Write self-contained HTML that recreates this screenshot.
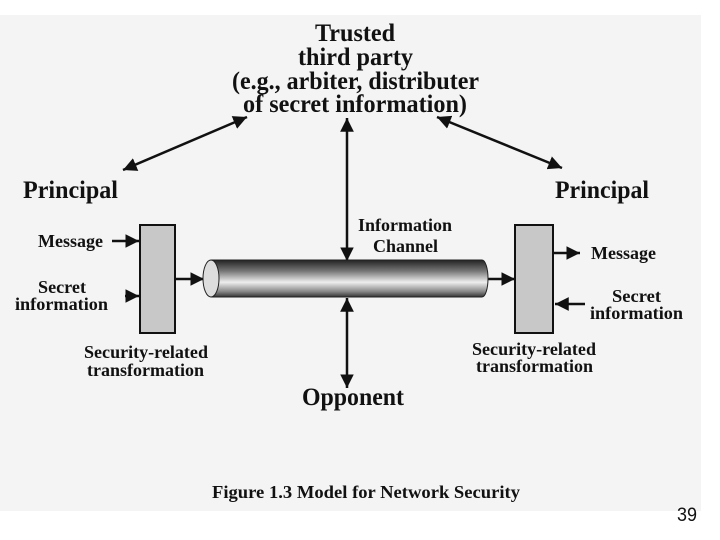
<!DOCTYPE html>
<html><head><style>
html,body{margin:0;padding:0;background:#fff;}
svg{display:block;}
text{font-family:"Liberation Serif",serif;font-weight:bold;fill:#111;}
</style></head><body>
<svg width="720" height="540" viewBox="0 0 720 540" xmlns="http://www.w3.org/2000/svg">
<defs>
<marker id="a" viewBox="0 0 10 10" refX="10" refY="5" markerWidth="5.5" markerHeight="5.5" orient="auto-start-reverse"><path d="M0,0L10,5L0,10z" fill="#111"/></marker>
<linearGradient id="cyl" x1="0" y1="0" x2="0" y2="1">
<stop offset="0" stop-color="#222"/><stop offset="0.3" stop-color="#777"/><stop offset="0.6" stop-color="#eee"/><stop offset="0.85" stop-color="#888"/><stop offset="1" stop-color="#333"/>
</linearGradient>
</defs>
<rect x="0" y="15" width="701" height="496" fill="#f4f4f4"/>
<g font-size="25">
<text x="315" y="41" textLength="80" lengthAdjust="spacingAndGlyphs">Trusted</text>
<text x="298" y="65" textLength="115" lengthAdjust="spacingAndGlyphs">third party</text>
<text x="232" y="89" textLength="247" lengthAdjust="spacingAndGlyphs">(e.g., arbiter, distributer</text>
<text x="243" y="112" textLength="224" lengthAdjust="spacingAndGlyphs">of secret information)</text>
<text x="23" y="198" textLength="95" lengthAdjust="spacingAndGlyphs">Principal</text>
<text x="555" y="198" textLength="94" lengthAdjust="spacingAndGlyphs">Principal</text>
<text x="302" y="405" textLength="102" lengthAdjust="spacingAndGlyphs">Opponent</text>
</g>
<g stroke="#111" stroke-width="2.5" fill="none">
<line x1="123" y1="170" x2="247" y2="117" marker-start="url(#a)" marker-end="url(#a)"/>
<line x1="437" y1="117" x2="562" y2="168" marker-start="url(#a)" marker-end="url(#a)"/>
<line x1="347" y1="118" x2="347" y2="261" marker-start="url(#a)" marker-end="url(#a)"/>
<line x1="347" y1="298" x2="347" y2="388" marker-start="url(#a)" marker-end="url(#a)"/>
<line x1="112" y1="241" x2="139" y2="241" marker-end="url(#a)"/>
<line x1="125" y1="296" x2="139" y2="296" marker-end="url(#a)"/>
<line x1="175" y1="279" x2="204" y2="279" marker-end="url(#a)"/>
<line x1="488" y1="279" x2="515" y2="279" marker-end="url(#a)"/>
<line x1="553" y1="253" x2="580" y2="253" marker-end="url(#a)"/>
<line x1="585" y1="304" x2="555" y2="304" marker-end="url(#a)"/>
</g>
<rect x="140" y="225" width="35" height="108" fill="#c8c8c8" stroke="#111" stroke-width="2"/>
<rect x="515" y="225" width="38" height="108" fill="#c8c8c8" stroke="#111" stroke-width="2"/>
<path d="M211,260 H482 A6,18.5 0 0 1 482,297 H211 Z" fill="url(#cyl)" stroke="#222" stroke-width="1"/>
<ellipse cx="211" cy="278.5" rx="8" ry="18.5" fill="#ddd" stroke="#222" stroke-width="1"/>
<g font-size="18">
<text x="38" y="247" textLength="65" lengthAdjust="spacingAndGlyphs">Message</text>
<text x="38" y="293" textLength="48" lengthAdjust="spacingAndGlyphs">Secret</text>
<text x="15" y="310" textLength="93" lengthAdjust="spacingAndGlyphs">information</text>
<text x="84" y="358" textLength="124" lengthAdjust="spacingAndGlyphs">Security-related</text>
<text x="87" y="376" textLength="117" lengthAdjust="spacingAndGlyphs">transformation</text>
<text x="591" y="259" textLength="65" lengthAdjust="spacingAndGlyphs">Message</text>
<text x="612" y="302" textLength="49" lengthAdjust="spacingAndGlyphs">Secret</text>
<text x="590" y="319" textLength="93" lengthAdjust="spacingAndGlyphs">information</text>
<text x="472" y="355" textLength="124" lengthAdjust="spacingAndGlyphs">Security-related</text>
<text x="476" y="372" textLength="117" lengthAdjust="spacingAndGlyphs">transformation</text>
<text x="358" y="231" textLength="94" lengthAdjust="spacingAndGlyphs">Information</text>
<text x="373" y="252" textLength="65" lengthAdjust="spacingAndGlyphs">Channel</text>
<text x="212" y="498" textLength="308" lengthAdjust="spacingAndGlyphs">Figure 1.3    Model for Network Security</text>
</g>
<text x="677" y="521" font-size="19" textLength="20" lengthAdjust="spacingAndGlyphs" style="font-family:'Liberation Sans',sans-serif;font-weight:normal">39</text>
</svg>
</body></html>
